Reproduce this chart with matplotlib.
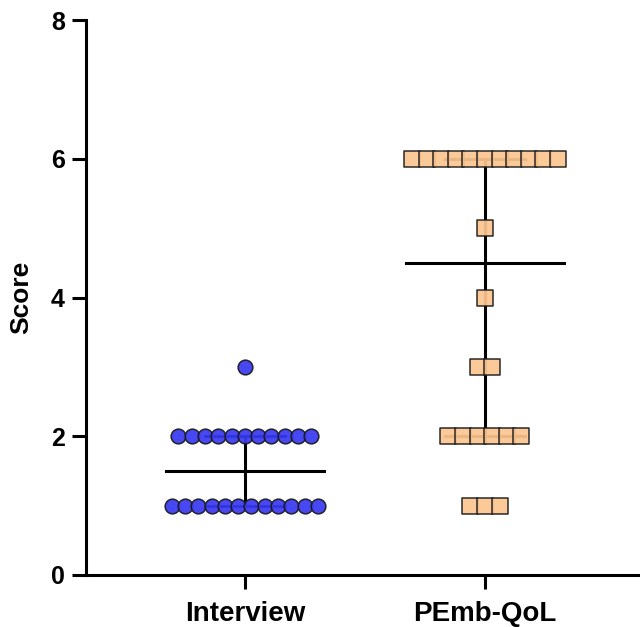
import numpy as np
import matplotlib
matplotlib.use("Agg")
import matplotlib.pyplot as plt

plt.rcParams['font.family'] = ['Liberation Sans', 'DejaVu Sans']

# data: score -> number of subjects
groups = ['Interview', 'PEmb-QoL']
interview_scores = [1, 2, 3]
interview_counts = [12, 11, 1]
pemb_scores = [1, 2, 3, 4, 5, 6]
pemb_counts = [3, 6, 2, 1, 1, 11]

interview = np.repeat(interview_scores, interview_counts)
pemb = np.repeat(pemb_scores, pemb_counts)

fig = plt.figure(figsize=(6.4, 6.27), dpi=100)
ax = fig.add_axes([0.134, 0.083, 0.866, 0.885])

def swarm_x(values, center, step):
    xs = np.zeros(len(values))
    for v in np.unique(values):
        idx = np.where(values == v)[0]
        n = len(idx)
        xs[idx] = center + (np.arange(n) - (n - 1) / 2) * step
    return xs

# median with interquartile range
for i, vals in enumerate([interview, pemb]):
    med = np.median(vals)
    q1, q3 = np.percentile(vals, [25, 75])
    ax.plot([i - 0.33, i + 0.33], [med, med], color='black', lw=2.2, zorder=2)
    ax.plot([i, i], [q1, q3], color='black', lw=2.2, zorder=2)
    ax.plot([i - 0.167, i + 0.167], [q1, q1], color='black', lw=2.2, zorder=2)
    ax.plot([i - 0.167, i + 0.167], [q3, q3], color='black', lw=2.2, zorder=2)

ax.scatter(swarm_x(interview, 0, 0.0555), interview, s=112, marker='o',
           color='#3a3af2', edgecolor='#1a1a1a', linewidth=1.1, alpha=0.93,
           zorder=3, clip_on=False)
ax.scatter(swarm_x(pemb, 1, 0.0608), pemb, s=118, marker='s',
           color='#fcc690', edgecolor='#1a1a1a', linewidth=1.1, alpha=0.93,
           zorder=3, clip_on=False)

ax.set_xlim(-0.6625, 1.6458)
ax.set_ylim(0, 8)
ax.set_yticks([0, 2, 4, 6, 8])
ax.set_xticks([0, 1])
ax.set_xticklabels(groups, fontsize=20, fontweight='bold')
for lab in ax.get_yticklabels():
    lab.set_fontsize(18)
    lab.set_fontweight('bold')
ax.set_ylabel('Score', fontsize=19, fontweight='bold', labelpad=13)

ax.spines['top'].set_visible(False)
ax.spines['right'].set_visible(False)
ax.spines['left'].set_linewidth(2.2)
ax.spines['bottom'].set_linewidth(2.2)
ax.tick_params(axis='both', width=2.2, length=10, pad=5)
ax.tick_params(axis='x', pad=9)

fig.savefig('out.png', dpi=100)
